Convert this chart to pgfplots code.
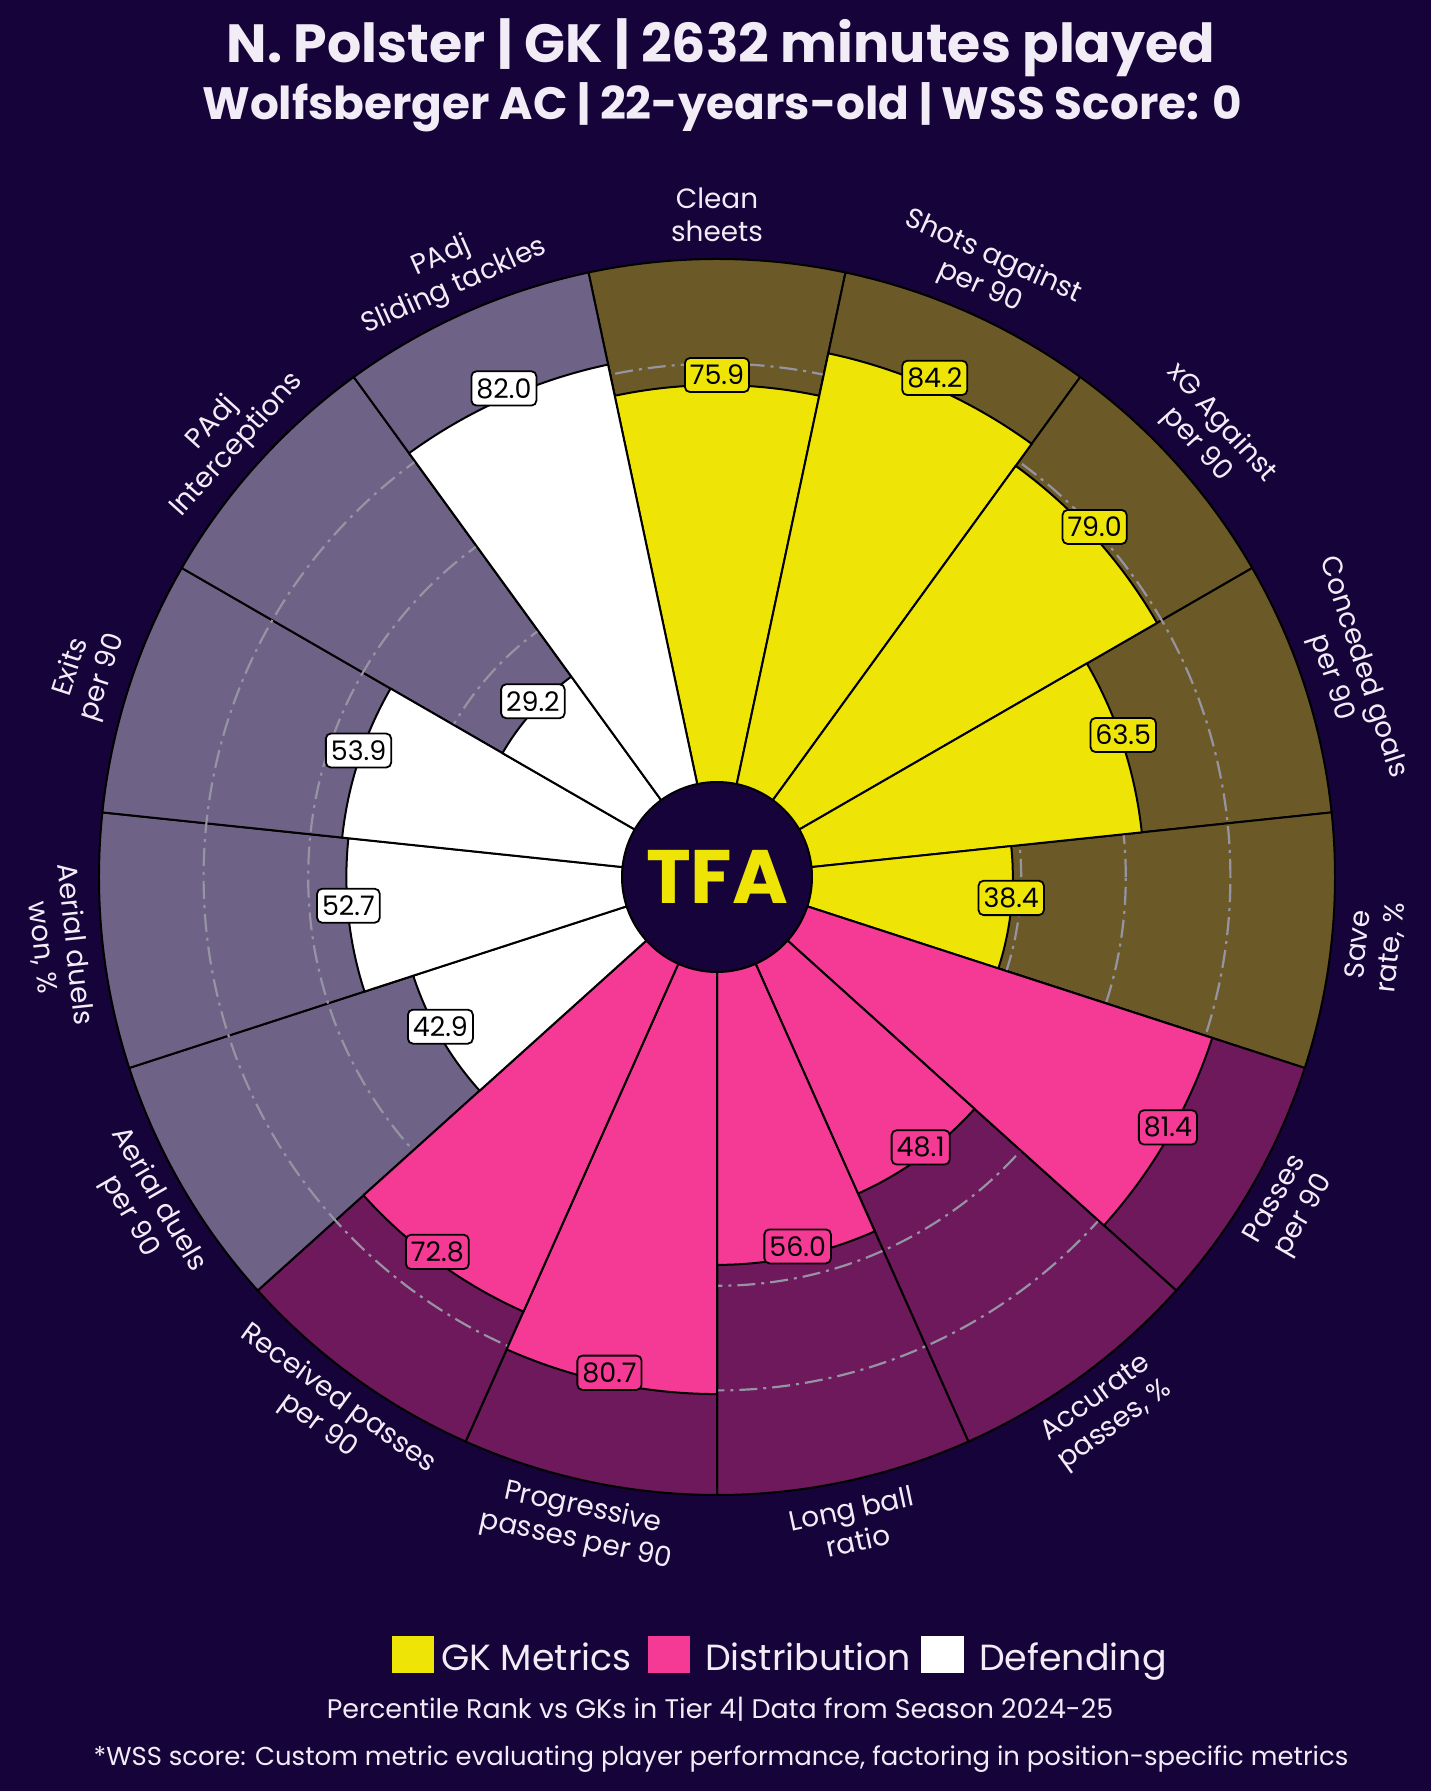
\documentclass[border=0pt]{standalone}
\usepackage{pgfplots}
\usepackage{pgfplotstable}
\pgfplotsset{compat=1.18}
\usepackage{fontspec}
\setmainfont{Poppins}
\definecolor{bgc}{RGB}{22,3,58}
\definecolor{gkY}{RGB}{238,229,6}
\definecolor{gkBg}{RGB}{107,90,40}
\definecolor{diP}{RGB}{245,58,150}
\definecolor{diBg}{RGB}{110,25,92}
\definecolor{deW}{RGB}{255,255,255}
\definecolor{deBg}{RGB}{110,98,135}
\definecolor{txt}{RGB}{242,236,247}
\definecolor{gridc}{RGB}{150,148,162}

% percentile values, angle = slice centre (deg)
\pgfplotstableread[col sep=comma]{
ang,v
90,75.9
66,84.2
42,79.0
18,63.5
-6,38.4
}\gk
\pgfplotstableread[col sep=comma]{
ang,v
-30,81.4
-54,48.1
-78,56.0
-102,80.7
-126,72.8
}\dist
\pgfplotstableread[col sep=comma]{
ang,v
-150,42.9
-174,52.7
162,53.9
138,29.2
114,82.0
}\defe

% #1 table, #2 fill colour, #3 outer radius (bp) expression in \V
\newcommand\wedges[3]{%
  \pgfplotsinvokeforeach{0,...,4}{%
    \pgfplotstablegetelem{##1}{ang}\of#1\let\A\pgfplotsretval
    \pgfplotstablegetelem{##1}{v}\of#1\let\V\pgfplotsretval
    \pgfmathsetmacro\sa{\A-12}%
    \pgfmathsetmacro\ea{\A+12}%
    \pgfmathsetmacro\ro{#3}%
    \edef\temp{\noexpand\filldraw[fill=#2, draw=black, line width=2bp, line join=round]
      ([shift={(\sa:95bp)}]axis cs:0,0) -- ([shift={(\sa:\ro bp)}]axis cs:0,0)
      arc[start angle=\sa, end angle=\ea, radius=\ro bp] -- ([shift={(\ea:95bp)}]axis cs:0,0) -- cycle;}%
    \temp
  }%
}
% value labels: #1 table, #2 fill
\newcommand\vlabels[2]{%
  \pgfplotsinvokeforeach{0,...,4}{%
    \pgfplotstablegetelem{##1}{ang}\of#1\let\A\pgfplotsretval
    \pgfplotstablegetelem{##1}{v}\of#1\let\V\pgfplotsretval
    \pgfmathsetmacro\rv{95+5.23*\V}%
    \edef\temp{\noexpand\node[fill=#2, draw=black, line width=1.8bp, rounded corners=5bp, text=black,
        inner xsep=5bp, inner ysep=7bp, yshift=10bp, font=\noexpand\fontsize{27}{27}\noexpand\selectfont]
        at ([shift={(\A:\rv bp)}]axis cs:0,0) {\V};}%
    \temp
  }%
}
\tikzset{lab/.style={text=txt, font=\fontsize{28}{33}\selectfont, align=center, anchor=center}}

\begin{document}
\begin{tikzpicture}
\fill[bgc] (0,0) rectangle (1431bp,1791bp);
\begin{axis}[at={(0,0)}, anchor=south west, x=1bp, y=1bp,
  xmin=-717, xmax=714, ymin=-914, ymax=877,
  hide axis, clip=false, enlargelimits=false]

% background slices
\wedges{\gk}{gkBg}{618}
\wedges{\dist}{diBg}{618}
\wedges{\defe}{deBg}{618}

% grid rings at 20/40/60/80
\pgfplotsinvokeforeach{20,40,60,80}{%
  \draw[gridc, line width=2.2bp, dash pattern=on 18bp off 6bp on 3bp off 6bp]
    (axis cs:0,0) circle[radius={(95+5.23*#1)*1bp}];
}

% value slices
\wedges{\gk}{gkY}{95+5.23*\V}
\wedges{\dist}{diP}{95+5.23*\V}
\wedges{\defe}{deW}{95+5.23*\V}

% centre hole
\filldraw[fill=bgc, draw=black, line width=2bp] (axis cs:0,0) circle[radius=95bp];
\node[text=gkY, font=\bfseries\fontsize{76}{76}\selectfont] at (axis cs:0,0) {TFA};

% value labels
\vlabels{\gk}{gkY}
\vlabels{\dist}{diP}
\vlabels{\defe}{deW}

% parameter labels
\node[lab, rotate=0]   at (axis cs:{662*cos(90)},{662*sin(90)}) {Clean\\sheets};
\node[lab, rotate=-24] at (axis cs:{662*cos(66)},{662*sin(66)}) {Shots against\\per 90};
\node[lab, rotate=-48] at (axis cs:{662*cos(42)},{662*sin(42)}) {xG Against\\per 90};
\node[lab, rotate=-72] at (axis cs:{662*cos(18)},{662*sin(18)}) {Conceded goals\\per 90};
\node[lab, rotate=84]  at (axis cs:{662*cos(-6)},{662*sin(-6)}) {Save\\rate, \%};
\node[lab, rotate=60]  at (axis cs:{662*cos(-30)},{662*sin(-30)}) {Passes\\per 90};
\node[lab, rotate=36]  at (axis cs:{662*cos(-54)},{662*sin(-54)}) {Accurate\\passes, \%};
\node[lab, rotate=12]  at (axis cs:{662*cos(-78)},{662*sin(-78)}) {Long ball\\ratio};
\node[lab, rotate=-12] at (axis cs:{662*cos(-102)},{662*sin(-102)}) {Progressive\\passes per 90};
\node[lab, rotate=-36] at (axis cs:{662*cos(-126)},{662*sin(-126)}) {Received passes\\per 90};
\node[lab, rotate=-60] at (axis cs:{662*cos(-150)},{662*sin(-150)}) {Aerial duels\\per 90};
\node[lab, rotate=-84] at (axis cs:{662*cos(-174)},{662*sin(-174)}) {Aerial duels\\won, \%};
\node[lab, rotate=72]  at (axis cs:{662*cos(162)},{662*sin(162)}) {Exits\\per 90};
\node[lab, rotate=48]  at (axis cs:{662*cos(138)},{662*sin(138)}) {PAdj\\Interceptions};
\node[lab, rotate=24]  at (axis cs:{662*cos(114)},{662*sin(114)}) {PAdj\\Sliding tackles};

% titles
\node[anchor=base, text=txt, font=\bfseries\fontsize{54}{54}\selectfont] at (axis cs:4,814) {N. Polster | GK | 2632 minutes played};
\node[anchor=base, text=txt, font=\bfseries\fontsize{45.5}{45.5}\selectfont] at (axis cs:5,757) {Wolfsberger AC | 22-years-old | WSS Score: 0};

% legend
\fill[gkY] (axis cs:-325,-759) rectangle (axis cs:-283,-796);
\node[anchor=base west, text=txt, font=\fontsize{36.5}{36.5}\selectfont, inner sep=0pt] at (axis cs:-276,-794) {GK Metrics};
\fill[diP] (axis cs:-69,-759) rectangle (axis cs:-27,-796);
\node[anchor=base west, text=txt, font=\fontsize{36.5}{36.5}\selectfont, inner sep=0pt] at (axis cs:-12,-794) {Distribution};
\fill[deW] (axis cs:204,-759) rectangle (axis cs:247,-796);
\node[anchor=base west, text=txt, font=\fontsize{36.5}{36.5}\selectfont, inner sep=0pt] at (axis cs:262,-794) {Defending};

% footer
\node[anchor=base, text=txt, font=\fontsize{27}{27}\selectfont] at (axis cs:3,-842) {Percentile Rank vs GKs in Tier 4| Data from Season 2024-25};
\node[anchor=base, text=txt, font=\fontsize{26}{26}\selectfont] at (axis cs:4,-889) {*WSS score: Custom metric evaluating player performance, factoring in position-specific metrics};
\end{axis}
\end{tikzpicture}
\end{document}
